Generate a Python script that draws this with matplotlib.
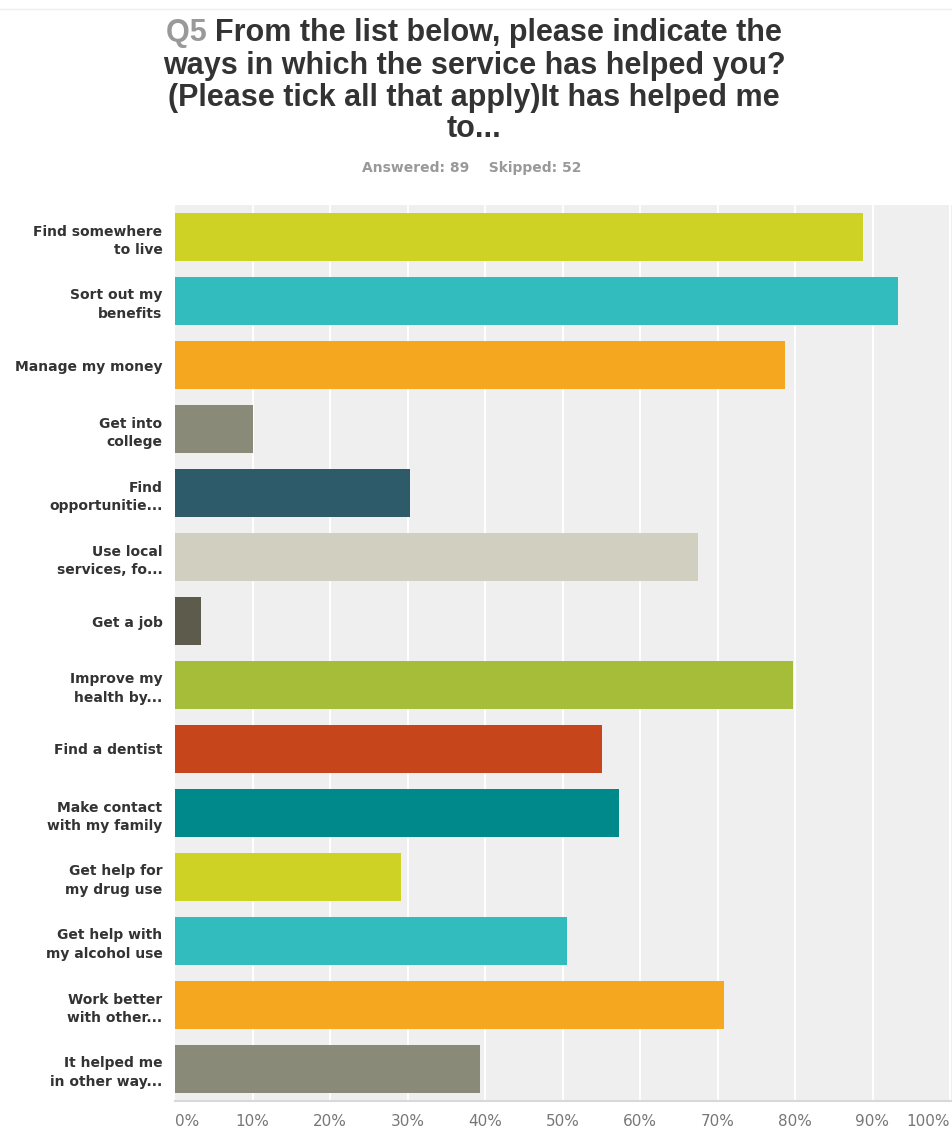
"""Horizontal bar chart of survey answers for Q5."""
import numpy as np
import matplotlib.pyplot as plt
from matplotlib.lines import Line2D

categories = [
    "Find somewhere\nto live",
    "Sort out my\nbenefits",
    "Manage my money",
    "Get into\ncollege",
    "Find\nopportunitie...",
    "Use local\nservices, fo...",
    "Get a job",
    "Improve my\nhealth by...",
    "Find a dentist",
    "Make contact\nwith my family",
    "Get help for\nmy drug use",
    "Get help with\nmy alcohol use",
    "Work better\nwith other...",
    "It helped me\nin other way...",
]
percent = [88.76, 93.26, 78.65, 10.11, 30.34, 67.42, 3.37,
           79.78, 55.06, 57.30, 29.21, 50.56, 70.79, 39.33]
bar_colors = ["#cdd224", "#32bcbd", "#f5a81f", "#8a8a78", "#2e5b69",
              "#d1cfc0", "#5c5b4c", "#a6bd39", "#c7451b", "#00898a",
              "#cdd224", "#32bcbd", "#f5a81f", "#8a8a78"]
tick_values = list(range(0, 101, 10))
tick_labels = [f"{t}%" for t in tick_values]

W, H = 952, 1131
fig = plt.figure(figsize=(W / 100, H / 100), dpi=100)
fig.patch.set_facecolor("white")

left, right, top, bottom = 175, 952, 205, 1101
ax = fig.add_axes([left / W, 1 - bottom / H, (right - left) / W, (bottom - top) / H])
ax.set_facecolor("#efefef")

y = np.arange(len(categories))
ax.set_xlim(0, 100 * (right - left) / 775)
ax.set_ylim(len(categories) - 0.5, -0.5)
for t in tick_values[1:]:
    ax.axvline(t, color="white", lw=1.4, zorder=1)
ax.barh(y, percent, height=0.75, color=bar_colors, zorder=2)

for s in ["top", "right", "left"]:
    ax.spines[s].set_visible(False)
ax.spines["bottom"].set_color("#d8d8d8")
ax.spines["bottom"].set_linewidth(1.5)

ax.set_yticks(y)
ax.set_yticklabels(categories, fontfamily="DejaVu Sans", fontweight="bold",
                   fontsize=10, color="#333333", linespacing=1.4)
ax.tick_params(axis="y", length=0, pad=9)

ax.set_xticks(tick_values)
ax.set_xticklabels(tick_labels, fontfamily="DejaVu Sans", fontsize=11,
                   color="#777777")
ax.tick_params(axis="x", length=0, pad=9)
xt = ax.get_xticklabels()
xt[0].set_ha("left")
xt[-1].set_ha("right")

# title lines, with the question number in grey
title_lines = ["From the list below, please indicate the",
               "ways in which the service has helped you?",
               "(Please tick all that apply)It has helped me",
               "to..."]
title_y = [33, 66, 98, 129]
tkw = dict(fontfamily="Liberation Sans", fontweight="bold", fontsize=22,
           va="center", transform=None)
q = fig.text(0, 0, "Q5 ", color="#999999", **tkw)
first = fig.text(0, 0, title_lines[0], color="#333333", **tkw)
fig.canvas.draw()
r = fig.canvas.get_renderer()
qw = q.get_window_extent(r).width
fw = first.get_window_extent(r).width
x0 = 474 - (qw + fw) / 2
q.set_position((x0, H - title_y[0]))
first.set_position((x0 + qw, H - title_y[0]))
for line, ty in zip(title_lines[1:], title_y[1:]):
    fig.text(474, H - ty, line, color="#333333", ha="center", **tkw)

fig.text(472 / W, 1 - 168 / H, "Answered: 89    Skipped: 52",
         fontfamily="DejaVu Sans", fontweight="bold", fontsize=10,
         color="#999999", ha="center", va="center")

fig.add_artist(Line2D([0, 1], [1 - 9 / H, 1 - 9 / H], color="#eeeeee", lw=1))

fig.savefig("out.png", dpi=100)
